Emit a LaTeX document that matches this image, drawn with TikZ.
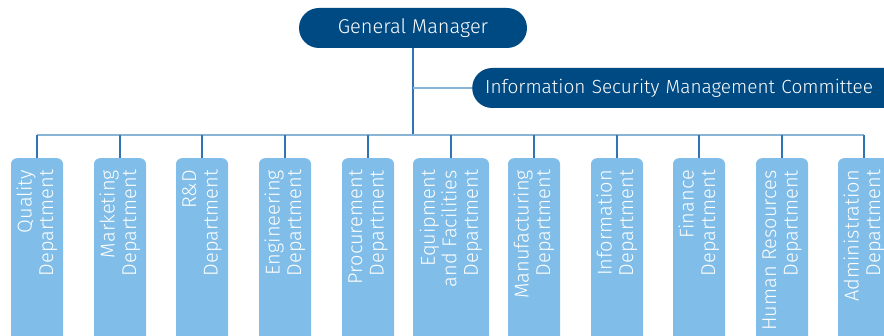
\documentclass[tikz,border=0pt]{standalone}
\usepackage{fontspec}
\setmainfont{Fira Sans Light}
\definecolor{dark}{HTML}{004A83}
\definecolor{light}{HTML}{80BDE8}
\definecolor{hline}{HTML}{8AB4D6}
\definecolor{vline}{HTML}{2E75B6}
\begin{document}
\begin{tikzpicture}[x=1pt,y=-1pt,
  top/.style={fill=dark,text=white,rounded corners=20pt,minimum height=40pt,inner ysep=0pt},
  dept/.style={fill=light,rounded corners=6pt,minimum height=190pt,minimum width=52pt,anchor=north,inner sep=0pt},
  deptlab/.style={text=white,rotate=90,anchor=east,align=right,inner sep=0pt,font=\fontsize{20}{21.5}\selectfont},
  hl/.style={draw=hline,line width=2pt},
  vl/.style={draw=vline,line width=1.3pt}]
\useasboundingbox[clip] (0,0) rectangle (884,336);
\node[top,minimum width=228pt,inner xsep=0pt,font=\fontsize{20}{24}\selectfont] (gm) at (413,28) {General Manager};
\node[top,anchor=west,inner xsep=13pt,text width=414pt,align=left,font=\fontsize{19}{24}\selectfont] (ism) at (472,88) {Information Security Management Committee};
\coordinate (junc) at (413,135);
\coordinate (isj) at (413,88);
\coordinate (hl) at (37,135);
\coordinate (hr) at (864,135);
\draw[vl] (gm.south) -- (junc);
\draw[hl] (isj) -- (ism.west);
\draw[hl] (hl) -- (hr);
\foreach \n/\x/\w/\t in {
 q/37/52/{Quality\\Department},
 m/120/52/{Marketing\\Department},
 r/202/52/{R\&D\\Department},
 e/285/52/{Engineering\\Department},
 p/368/52/{Procurement\\Department},
 f/451/76/{Equipment\\and Facilities\\Department},
 u/534/52/{Manufacturing\\Department},
 i/617/52/{Information\\Department},
 n/699/52/{Finance\\Department},
 h/782/52/{Human Resources\\Department},
 a/864/52/{Administration\\Department}}{
  \node[dept,minimum width=\w pt] (\n) at (\x,158) {};
  \node[deptlab] (\n l) at (\x,170) {\t};
  \coordinate (\n t) at (\x,135);
  \draw[vl] (\n t) -- (\n.north);
}
\end{tikzpicture}
\end{document}
